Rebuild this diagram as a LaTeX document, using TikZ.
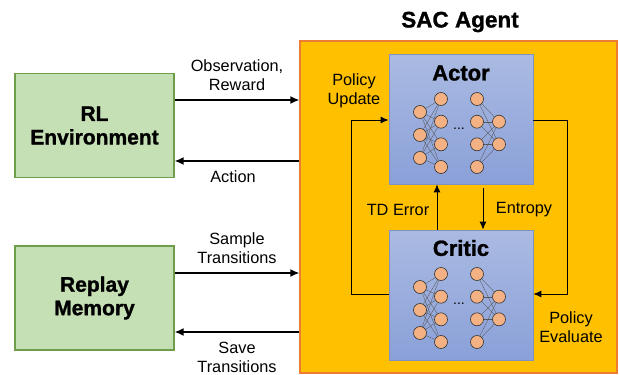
\documentclass[tikz,border=0pt]{standalone}
\usepackage{fontspec}
\setmainfont{Liberation Sans}[BoldFeatures={FakeBold=1.2}]
\usetikzlibrary{arrows.meta}
\definecolor{agentfill}{HTML}{FFC000}
\definecolor{agentline}{HTML}{ED7D31}
\definecolor{greenfill}{HTML}{C5E0B4}
\definecolor{greenline}{HTML}{6E9E4A}
\definecolor{bluetop}{RGB}{170,186,226}
\definecolor{bluebot}{RGB}{138,160,216}
\definecolor{blueline}{RGB}{128,146,192}
\definecolor{neuronfill}{HTML}{F4B183}
\tikzset{
  agentbox/.style={draw=agentline, line width=1.2pt, fill=agentfill, minimum width=317pt, minimum height=332pt, inner sep=0pt},
  greenbox/.style={draw=greenline, line width=1.2pt, fill=greenfill, minimum width=159pt, minimum height=104pt, inner sep=0pt, align=center,
    font=\fontsize{21}{23.5}\selectfont\bfseries},
  netbox/.style={draw=blueline, line width=0.8pt, top color=bluetop, bottom color=bluebot, minimum width=144pt, minimum height=130pt, inner sep=0pt},
  nettitle/.style={font=\fontsize{22}{24}\selectfont\bfseries, inner sep=0pt},
  lbl/.style={font=\fontsize{16.3}{19}\selectfont, align=center, inner sep=0pt},
  neuron/.style={circle, draw=black!80, line width=0.6pt, fill=neuronfill, minimum size=13pt, inner sep=0pt},
  wire/.style={draw=black!65, line width=0.35pt},
  mainarrow/.style={line width=1.6pt, -{Latex[length=9pt,width=8pt]}},
  innerarrow/.style={line width=0.9pt, -{Latex[length=8pt,width=7pt]}}
}
\begin{document}
\begin{tikzpicture}[x=1pt,y=-1pt]
\useasboundingbox (0,0) rectangle (619,375);

% agent container
\node[agentbox] (agent) at (458.5,207) {};
\node[nettitle, font=\fontsize{22.5}{24}\selectfont\bfseries] (agenttitle) at (460,22) {SAC Agent};

% left boxes
\node[greenbox] (env) at (94.5,125.5) {RL\\Environment};
\node[greenbox] (mem) at (94.5,298) {Replay\\Memory};

% actor / critic boxes
\node[netbox] (actor) at (461,119) {};
\node[netbox] (critic) at (461,295) {};
\node[nettitle] (actortitle) at (461,73) {Actor};
\node[nettitle] (critictitle) at (461,248) {Critic};

% neurons
\foreach \n/\dy in {a/0, c/175} {
  \foreach \i/\y in {1/112, 2/135, 3/158}
    \node[neuron] (\n1\i) at (420,\y+\dy) {};
  \foreach \i/\y in {1/99, 2/121.7, 3/144.3, 4/167} {
    \node[neuron] (\n2\i) at (441,\y+\dy) {};
    \node[neuron] (\n3\i) at (477,\y+\dy) {};
  }
  \foreach \i/\y in {1/121.7, 2/144.3}
    \node[neuron] (\n4\i) at (499,\y+\dy) {};
  \foreach \i in {1,2,3}
    \foreach \j in {1,2,3,4}
      \draw[wire] (\n1\i) -- (\n2\j);
  \foreach \i in {1,2,3,4}
    \foreach \j in {1,2}
      \draw[wire] (\n3\i) -- (\n4\j);
  \node[font=\fontsize{14}{14}\selectfont, inner sep=0pt] (\n dots) at (459,129+\dy) {...};
}

% main arrows
\draw[mainarrow] (env.east |- 0,100) -- (agent.west |- 0,100);
\draw[mainarrow] (agent.west |- 0,161) -- (env.east |- 0,161);
\draw[mainarrow] (mem.east |- 0,273) -- (agent.west |- 0,273);
\draw[mainarrow] (agent.west |- 0,332) -- (mem.east |- 0,332);

\node[lbl] (l1) at (237,75) {Observation,\\Reward};
\node[lbl] (l2) at (233,177) {Action};
\node[lbl] (l3) at (237,248) {Sample\\Transitions};
\node[lbl] (l4) at (237,357.5) {Save\\Transitions};

% inner arrows
\draw[innerarrow] (critic.west |- 0,294) -- (351,294) -- (351,120) -- (actor.west |- 0,120);
\draw[innerarrow] (actor.east |- 0,120) -- (567,120) -- (567,294) -- (critic.east |- 0,294);
\draw[innerarrow] (critic.north -| 437,0) -- (actor.south -| 437,0);
\draw[innerarrow] ([yshift=-4pt]actor.south -| 483,0) -- (critic.north -| 483,0);

\node[lbl] (l5) at (354,91) {Policy\\Update};
\node[lbl] (l6) at (571,327) {Policy\\Evaluate};
\node[lbl] (l7) at (398,210) {TD Error};
\node[lbl] (l8) at (524,210) {Entropy};
\end{tikzpicture}
\end{document}
